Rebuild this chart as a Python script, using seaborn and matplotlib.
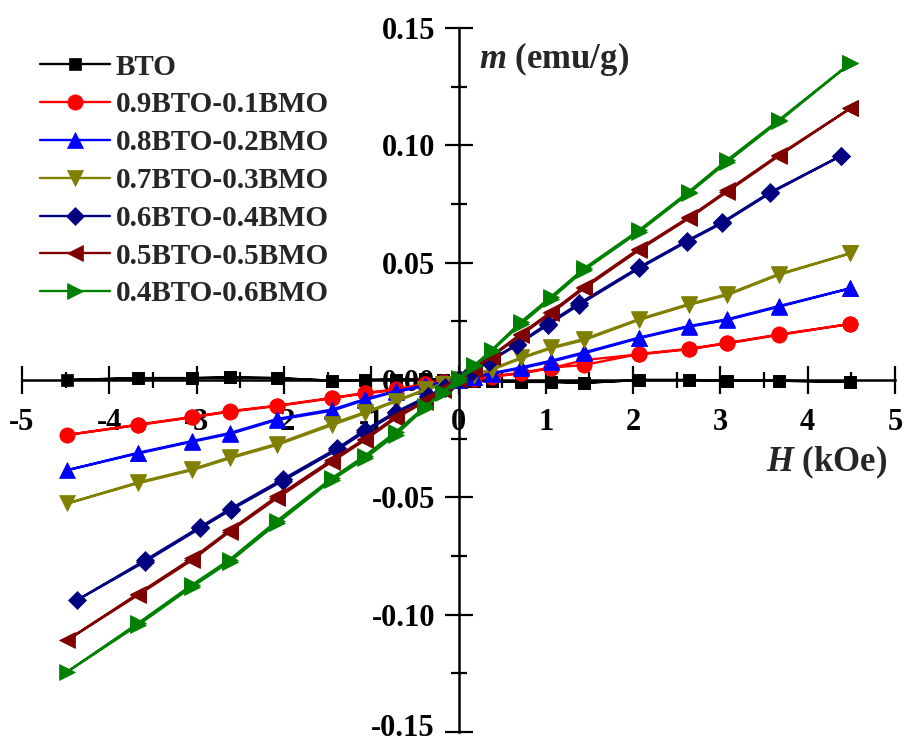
import matplotlib
matplotlib.use("Agg")
import matplotlib.pyplot as plt
import matplotlib.transforms as mtransforms
import seaborn as sns
from matplotlib.ticker import MultipleLocator, FixedLocator, FixedFormatter

sns.set_theme(style="white")
plt.rcParams["font.family"] = ["Liberation Serif", "DejaVu Serif"]
plt.rcParams["font.weight"] = "bold"
plt.rcParams["mathtext.fontset"] = "custom"
plt.rcParams["mathtext.it"] = "Liberation Serif:italic:bold"
plt.rcParams["mathtext.rm"] = "Liberation Serif:bold"

# Field sweep: +Hmax -> -Hmax -> +Hmax (kOe)
H_loop = [4.49, 3.67, 3.08, 2.64, 2.07, 1.44, 1.06, 0.72, 0.38, 0.18, 0.0,
          -0.18, -0.38, -0.72, -1.07, -1.45, -2.08, -2.62, -3.05, -3.67, -4.48,
          -3.67, -3.05, -2.62, -2.08, -1.45, -1.07, -0.72, -0.38, -0.18, 0.0,
          0.18, 0.38, 0.72, 1.06, 1.44, 2.07, 2.64, 3.08, 3.67, 4.49]
H_navy = [4.38, 3.57, 3.02, 2.62, 2.07, 1.38, 1.02, 0.67, 0.35, 0.16, 0.0,
          -0.16, -0.35, -0.72, -1.07, -1.39, -2.01, -2.61, -2.96, -3.59, -4.37,
          -3.59, -2.96, -2.61, -2.01, -1.39, -1.07, -0.72, -0.35, -0.16, 0.0,
          0.16, 0.35, 0.67, 1.02, 1.38, 2.07, 2.62, 3.02, 3.57, 4.38]

# Magnetization m (emu/g)
m_bto = [-0.0008, -0.0003, -0.0003, 0.0000, 0.0000, -0.0012, -0.0008, -0.0008, -0.0006, -0.0003, 0.0000,
         0.0002, 0.0004, 0.0002, 0.0000, -0.0003, 0.0008, 0.0011, 0.0008, 0.0008, 0.0000,
         0.0008, 0.0008, 0.0011, 0.0008, -0.0003, 0.0000, 0.0002, 0.0004, 0.0002, 0.0000,
         -0.0003, -0.0006, -0.0008, -0.0008, -0.0012, 0.0000, 0.0000, -0.0003, -0.0003, -0.0008]
m_01 = [0.0239, 0.0192, 0.0156, 0.0131, 0.0109, 0.0085, 0.0050, 0.0028, 0.0014, 0.0006, 0.0000,
        -0.0008, -0.0018, -0.0043, -0.0057, -0.0078, -0.0111, -0.0135, -0.0159, -0.0192, -0.0234,
        -0.0190, -0.0157, -0.0133, -0.0109, -0.0076, -0.0055, -0.0040, -0.0016, -0.0007, 0.0001,
        0.0008, 0.0016, 0.0031, 0.0053, 0.0064, 0.0111, 0.0133, 0.0158, 0.0194, 0.0239]
m_02 = [0.0391, 0.0312, 0.0256, 0.0227, 0.0178, 0.0114, 0.0078, 0.0050, 0.0026, 0.0012, 0.0001,
        -0.0012, -0.0026, -0.0050, -0.0085, -0.0131, -0.0170, -0.0230, -0.0263, -0.0313, -0.0384,
        -0.0310, -0.0260, -0.0226, -0.0166, -0.0126, -0.0081, -0.0047, -0.0023, -0.0010, 0.0001,
        0.0014, 0.0029, 0.0054, 0.0082, 0.0118, 0.0181, 0.0230, 0.0259, 0.0315, 0.0391]
m_03 = [0.0540, 0.0448, 0.0362, 0.0320, 0.0256, 0.0170, 0.0135, 0.0092, 0.0043, 0.0020, 0.0002,
        -0.0018, -0.0044, -0.0092, -0.0142, -0.0192, -0.0277, -0.0334, -0.0384, -0.0440, -0.0526,
        -0.0436, -0.0380, -0.0329, -0.0272, -0.0186, -0.0137, -0.0088, -0.0040, -0.0016, 0.0004,
        0.0022, 0.0047, 0.0096, 0.0139, 0.0175, 0.0260, 0.0324, 0.0366, 0.0452, 0.0540]
m_04 = [0.0955, 0.0796, 0.0668, 0.0590, 0.0476, 0.0320, 0.0234, 0.0149, 0.0078, 0.0036, 0.0004,
        -0.0032, -0.0074, -0.0142, -0.0220, -0.0298, -0.0429, -0.0554, -0.0632, -0.0774, -0.0938,
        -0.0768, -0.0626, -0.0548, -0.0422, -0.0291, -0.0213, -0.0136, -0.0069, -0.0030, 0.0002,
        0.0038, 0.0080, 0.0153, 0.0240, 0.0326, 0.0481, 0.0594, 0.0672, 0.0800, 0.0955]
m_05 = [0.1158, 0.0955, 0.0803, 0.0689, 0.0554, 0.0391, 0.0284, 0.0192, 0.0099, 0.0048, 0.0006,
        -0.0042, -0.0092, -0.0163, -0.0256, -0.0348, -0.0504, -0.0646, -0.0767, -0.0916, -0.1108,
        -0.0910, -0.0760, -0.0640, -0.0496, -0.0340, -0.0250, -0.0156, -0.0086, -0.0038, 0.0002,
        0.0050, 0.0104, 0.0198, 0.0290, 0.0398, 0.0560, 0.0694, 0.0808, 0.0960, 0.1158]
m_06 = [0.1350, 0.1108, 0.0938, 0.0803, 0.0639, 0.0476, 0.0355, 0.0249, 0.0128, 0.0062, 0.0008,
        -0.0050, -0.0118, -0.0234, -0.0334, -0.0426, -0.0611, -0.0774, -0.0881, -0.1044, -0.1243,
        -0.1036, -0.0872, -0.0765, -0.0600, -0.0418, -0.0322, -0.0222, -0.0112, -0.0056, -0.0004,
        0.0058, 0.0124, 0.0240, 0.0346, 0.0468, 0.0632, 0.0796, 0.0930, 0.1102, 0.1350]

labels = ["BTO", "0.9BTO-0.1BMO", "0.8BTO-0.2BMO", "0.7BTO-0.3BMO",
          "0.6BTO-0.4BMO", "0.5BTO-0.5BMO", "0.4BTO-0.6BMO"]
colors = ["#000000", "#FF0000", "#0000FF", "#808000", "#000080", "#800000", "#008000"]
markers = ["s", "o", "^", "v", "D", "<", ">"]
msizes = [9, 11, 12, 12, 9.5, 12, 12]
fields = [H_loop, H_loop, H_loop, H_loop, H_navy, H_loop, H_loop]
moments = [m_bto, m_01, m_02, m_03, m_04, m_05, m_06]

fig = plt.figure(figsize=(9.05, 7.42), dpi=100)
ax = fig.add_axes([22 / 905, 10 / 742, 873 / 905, 704 / 742])

for H, m, lab, c, mk, ms in zip(fields, moments, labels, colors, markers, msizes):
    sns.lineplot(x=H, y=m, sort=False, estimator=None, ax=ax, color=c,
                 marker=mk, markersize=ms, markeredgecolor=c, markeredgewidth=0.5,
                 linewidth=1.7, label=lab, zorder=3, clip_on=False)

ax.set_xlim(-5, 5)
ax.set_ylim(-0.15, 0.15)

# Axes crossing at the origin
for side in ("top", "right"):
    ax.spines[side].set_visible(False)
ax.spines["left"].set_position(("data", 0))
ax.spines["bottom"].set_position(("data", 0))
for side in ("left", "bottom"):
    ax.spines[side].set_linewidth(1.8)
    ax.spines[side].set_color("black")
    ax.spines[side].set_zorder(2.5)

xticks = [-5, -4, -3, -2, -1, 0, 1, 2, 3, 4, 5]
xtick_labels = ["-5", "-4", "-3", "-2", "-1", "0", "1", "2", "3", "4", "5"]
yticks = [-0.15, -0.10, -0.05, 0.00, 0.05, 0.10, 0.15]
ytick_labels = ["-0.15", "-0.10", "-0.05", "0.00", "0.05", "0.10", "0.15"]
ax.xaxis.set_major_locator(FixedLocator(xticks))
ax.xaxis.set_major_formatter(FixedFormatter(xtick_labels))
ax.yaxis.set_major_locator(FixedLocator(yticks))
ax.yaxis.set_major_formatter(FixedFormatter(ytick_labels))
ax.xaxis.set_minor_locator(MultipleLocator(0.5))
ax.yaxis.set_minor_locator(MultipleLocator(0.025))
ax.tick_params(which="major", direction="inout", length=20, width=1.6,
               labelsize=22, colors="black")
ax.tick_params(which="minor", direction="inout", length=12, width=1.6, colors="black")
ax.tick_params(axis="x", which="both", bottom=True)
ax.tick_params(axis="y", which="both", left=True)
ax.tick_params(axis="x", which="major", pad=10)
ax.tick_params(axis="y", which="major", pad=7)
for t in ax.get_xticklabels() + ax.get_yticklabels():
    t.set_fontweight("bold")

# keep the lowest y label inside the canvas
lowest = ax.get_yticklabels()[0]
lowest.set_transform(lowest.get_transform() +
                     mtransforms.ScaledTranslation(0, 5 / 72, fig.dpi_scale_trans))

ax.text(0.23, 0.137, r"$m$ (emu/g)", fontsize=25, fontweight="bold",
        ha="left", va="center", transform=ax.transData)
ax.text(4.91, -0.0352, r"$H$ (kOe)", fontsize=25, fontweight="bold",
        ha="right", va="center", transform=ax.transData)

leg = ax.legend(loc="upper left", bbox_to_anchor=(28 / 905, 1 - 42 / 742),
                bbox_transform=fig.transFigure, frameon=False, fontsize=21,
                handlelength=2.4, handletextpad=0.2, labelspacing=0.37,
                borderaxespad=0, numpoints=1)
for t in leg.get_texts():
    t.set_fontweight("bold")

ax.set_facecolor("white")
fig.patch.set_facecolor("white")
fig.savefig("out.png", dpi=100, facecolor="white")
